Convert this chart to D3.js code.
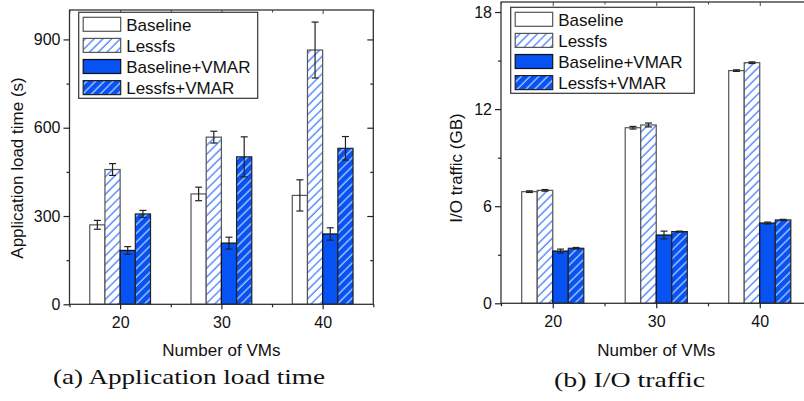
<!DOCTYPE html>
<html><head><meta charset="utf-8">
<script src="https://cdn.jsdelivr.net/npm/d3@7"></script>
<style>
html,body{margin:0;padding:0;background:#fff;}
svg{display:block;}
text{font-family:"Liberation Sans",Arial,Helvetica,sans-serif;fill:#111;}
.cap{font-family:"Liberation Serif","Times New Roman",serif;}
</style></head>
<body>
<svg id="chart" width="804" height="401"></svg>
<script>
// ---------- data ----------
const categories = [20, 30, 40];
const seriesNames = ["Baseline", "Lessfs", "Baseline+VMAR", "Lessfs+VMAR"];

// (a) Application load time (s)
const loadBaseline = [270, 375, 370];
const loadBaselineErr = [15, 23, 53];
const loadLessfs = [458, 568, 864];
const loadLessfsErr = [20, 20, 95];
const loadBaseVmar = [183, 208, 239];
const loadBaseVmarErr = [13, 20, 21];
const loadLessVmar = [307, 501, 530];
const loadLessVmarErr = [12, 68, 40];
const loadTicks = [0, 300, 600, 900];
const loadMinorTicks = [150, 450, 750];

// (b) I/O traffic (GB)
const ioBaseline = [6.9, 10.85, 14.38];
const ioBaselineErr = [0.05, 0.08, 0.05];
const ioLessfs = [6.98, 11.02, 14.87];
const ioLessfsErr = [0.05, 0.12, 0.05];
const ioBaseVmar = [3.23, 4.22, 4.96];
const ioBaseVmarErr = [0.12, 0.24, 0.06];
const ioLessVmar = [3.4, 4.43, 5.15];
const ioLessVmarErr = [0.05, 0.03, 0.04];
const ioTicks = [0, 6, 12, 18];
const ioMinorTicks = [3, 9, 15];

const xMinorTicks = [15, 25, 35, 45];

// ---------- drawing ----------
const svg = d3.select("#chart");
const BLUE = "#0652f2";
const defs = svg.append("defs");
function hatch(id, bg, line) {
  const s = 6.2;
  const p = defs.append("pattern").attr("id", id)
    .attr("patternUnits", "userSpaceOnUse").attr("width", s).attr("height", s)
    .attr("patternTransform", "rotate(45)");
  p.append("rect").attr("width", s).attr("height", s).attr("fill", bg);
  p.append("line").attr("x1", 1).attr("y1", 0).attr("x2", 1).attr("y2", s)
    .attr("stroke", line).attr("stroke-width", 1.1);
}
hatch("hLight", "#ffffff", "#2265ff");
hatch("hDark", BLUE, "#d4e2ff");

const styles = [
  { fill: "#ffffff", stroke: "#555" },
  { fill: "url(#hLight)", stroke: "#555" },
  { fill: BLUE, stroke: "#111" },
  { fill: "url(#hDark)", stroke: "#222" }
];

function panel(cfg) {
  const g = svg.append("g");
  const x = d3.scaleLinear().domain([15, 45]).range([cfg.x0, cfg.x1]);
  const y = d3.scaleLinear().domain([0, cfg.yMax]).range([cfg.y0, cfg.y1]);
  const bw = 1.5; // bar width in x units

  // bars
  cfg.series.forEach((s, si) => {
    const st = styles[si];
    categories.forEach((c, ci) => {
      const xa = x(c + (si - 2) * bw), xb = x(c + (si - 1) * bw);
      g.append("rect")
        .attr("x", xa).attr("y", y(s.v[ci]))
        .attr("width", xb - xa).attr("height", y(0) - y(s.v[ci]))
        .attr("fill", st.fill).attr("stroke", st.stroke).attr("stroke-width", 1.2);
    });
  });
  // error bars
  cfg.series.forEach((s, si) => {
    categories.forEach((c, ci) => {
      const xm = x(c + (si - 1.5) * bw);
      const lo = y(s.v[ci] - s.e[ci]), hi = y(s.v[ci] + s.e[ci]);
      const eg = g.append("g").attr("stroke", "#222").attr("stroke-width", 1.2);
      eg.append("line").attr("x1", xm).attr("x2", xm).attr("y1", lo).attr("y2", hi);
      eg.append("line").attr("x1", xm - 3.5).attr("x2", xm + 3.5).attr("y1", lo).attr("y2", lo);
      eg.append("line").attr("x1", xm - 3.5).attr("x2", xm + 3.5).attr("y1", hi).attr("y2", hi);
    });
  });

  // frame
  g.append("rect").attr("x", cfg.x0).attr("y", cfg.y1)
    .attr("width", cfg.x1 - cfg.x0).attr("height", cfg.y0 - cfg.y1)
    .attr("fill", "none").attr("stroke", "#333").attr("stroke-width", 1.3);

  // left axis
  const yAx = g.append("g").attr("transform", `translate(${cfg.x0},0)`)
    .call(d3.axisLeft(y).tickValues(cfg.ticks).tickSize(6).tickPadding(3).tickSizeOuter(0));
  yAx.select(".domain").remove();
  yAx.selectAll("line").attr("stroke", "#222").attr("stroke-width", 1.2);
  yAx.selectAll("text").style("font-size", "16px").style("font-family", "Liberation Sans, Arial, sans-serif").attr("fill", "#111");
  const yMin = g.append("g").attr("transform", `translate(${cfg.x0},0)`)
    .call(d3.axisLeft(y).tickValues(cfg.minor).tickSize(3).tickFormat("").tickSizeOuter(0));
  yMin.select(".domain").remove();
  yMin.selectAll("line").attr("stroke", "#222").attr("stroke-width", 1.2);
  // right axis (inward)
  [[cfg.ticks, 6], [cfg.minor, 3]].forEach(([tv, len]) => {
    const a = g.append("g").attr("transform", `translate(${cfg.x1},0)`)
      .call(d3.axisLeft(y).tickValues(tv.filter(t => t > 0)).tickSize(len).tickFormat("").tickSizeOuter(0));
    a.select(".domain").remove();
    a.selectAll("line").attr("stroke", "#222").attr("stroke-width", 1.2);
  });

  // bottom axis
  const xAx = g.append("g").attr("transform", `translate(0,${cfg.y0})`)
    .call(d3.axisBottom(x).tickValues(categories).tickSize(5).tickPadding(7).tickSizeOuter(0));
  xAx.select(".domain").remove();
  xAx.selectAll("line").attr("stroke", "#222").attr("stroke-width", 1.2);
  xAx.selectAll("text").style("font-size", "16px").style("font-family", "Liberation Sans, Arial, sans-serif").attr("fill", "#111");
  const xMin = g.append("g").attr("transform", `translate(0,${cfg.y0})`)
    .call(d3.axisBottom(x).tickValues(xMinorTicks).tickSize(3).tickFormat("").tickSizeOuter(0));
  xMin.select(".domain").remove();
  xMin.selectAll("line").attr("stroke", "#222").attr("stroke-width", 1.2);
  // top axis (inward)
  [[categories, 4], [xMinorTicks, 2.5]].forEach(([tv, len]) => {
    const a = g.append("g").attr("transform", `translate(0,${cfg.y1})`)
      .call(d3.axisTop(x).tickValues(tv).tickSize(-len).tickFormat("").tickSizeOuter(0));
    a.select(".domain").remove();
    a.selectAll("line").attr("stroke", "#444").attr("stroke-width", 1);
  });

  // axis titles
  g.append("text").attr("transform", `translate(${cfg.yTitleX},${cfg.yTitleY}) rotate(-90)`)
    .attr("text-anchor", "middle").style("font-size", "17px").text(cfg.yTitle);
  g.append("text").attr("x", (cfg.x0 + cfg.x1) / 2).attr("y", 356)
    .attr("text-anchor", "middle").style("font-size", "17px").text("Number of VMs");

  // legend
  const L = g.append("g");
  L.append("rect").attr("x", cfg.lx).attr("y", cfg.ly).attr("width", cfg.lw).attr("height", 86)
    .attr("fill", "#fff").attr("stroke", "#333").attr("stroke-width", 1.2);
  seriesNames.forEach((n, i) => {
    const ry = cfg.ly + 5 + i * 21.1;
    L.append("rect").attr("x", cfg.lx + 4.5).attr("y", ry).attr("width", 37.5).attr("height", 14)
      .attr("fill", styles[i].fill).attr("stroke", styles[i].stroke).attr("stroke-width", 1.2);
    L.append("text").attr("x", cfg.lx + 47.5).attr("y", ry + 13.5)
      .style("font-size", "17px").text(n);
  });

  // caption
  g.append("text").attr("class", "cap").attr("x", cfg.capX).attr("y", cfg.capY)
    .attr("text-anchor", "middle").style("font-size", "21px")
    .attr("textLength", cfg.capW).attr("lengthAdjust", "spacingAndGlyphs")
    .text(cfg.caption);
}

panel({
  x0: 69.5, x1: 373.3, y0: 304.3, y1: 10, yMax: 1000,
  ticks: loadTicks, minor: loadMinorTicks,
  series: [
    { v: loadBaseline, e: loadBaselineErr },
    { v: loadLessfs, e: loadLessfsErr },
    { v: loadBaseVmar, e: loadBaseVmarErr },
    { v: loadLessVmar, e: loadLessVmarErr }
  ],
  yTitle: "Application load time (s)", yTitleX: 23, yTitleY: 168,
  lx: 78.7, ly: 12.3, lw: 179,
  caption: "(a) Application load time", capX: 189, capY: 384, capW: 272
});
panel({
  x0: 501, x1: 811.5, y0: 303.3, y1: 2, yMax: 18.62,
  ticks: ioTicks, minor: ioMinorTicks,
  series: [
    { v: ioBaseline, e: ioBaselineErr },
    { v: ioLessfs, e: ioLessfsErr },
    { v: ioBaseVmar, e: ioBaseVmarErr },
    { v: ioLessVmar, e: ioLessVmarErr }
  ],
  yTitle: "I/O traffic (GB)", yTitleX: 462, yTitleY: 168,
  lx: 510.7, ly: 7.3, lw: 183.6,
  caption: "(b) I/O traffic", capX: 629.5, capY: 387, capW: 151
});
</script>
</body></html>
